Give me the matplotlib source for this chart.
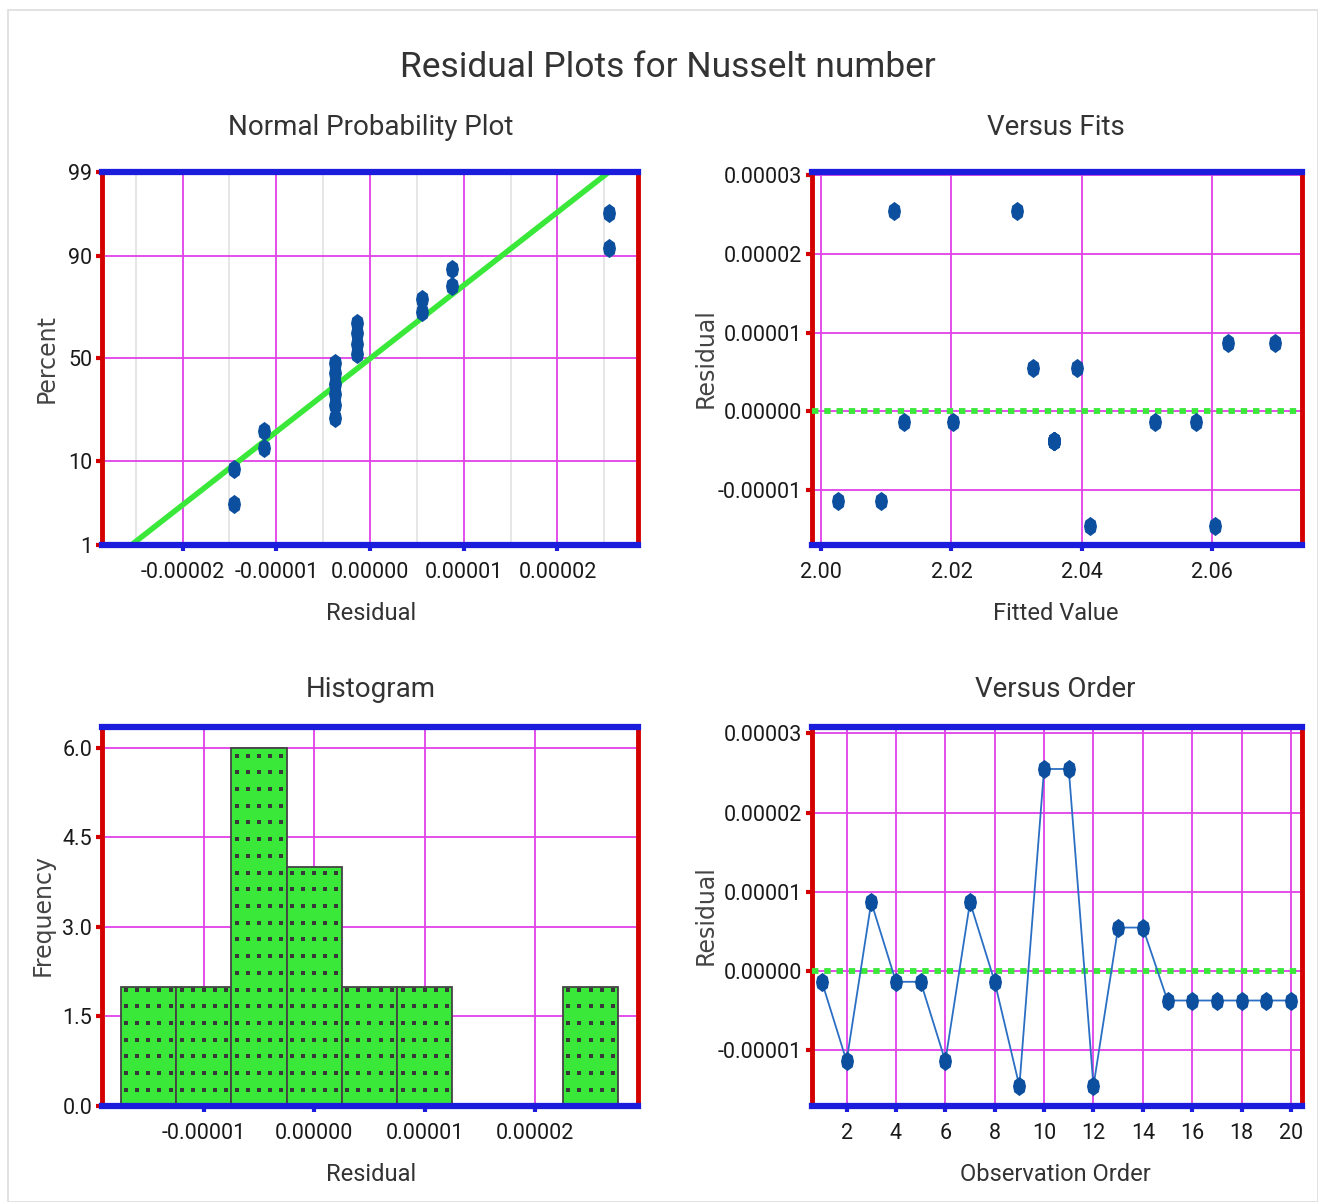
"""
Four-panel residual diagnostics for the Nusselt number regression.
Writes out.png.
"""

from statistics import NormalDist

import matplotlib

matplotlib.use("Agg")
import matplotlib.pyplot as plt
from matplotlib.patches import Rectangle
from matplotlib.path import Path
from matplotlib.ticker import FixedLocator
import numpy as np

# residuals in run order (observations 1..20)
observation = list(range(1, 21))
residual = [
    -1.34e-6, -1.134e-5, 8.7e-6, -1.34e-6, -1.34e-6,
    -1.134e-5, 8.7e-6, -1.34e-6, -1.45e-5, 2.55e-5,
    2.55e-5, -1.45e-5, 5.5e-6, 5.5e-6, -3.7e-6,
    -3.7e-6, -3.7e-6, -3.7e-6, -3.7e-6, -3.7e-6,
]
fitted = [
    2.0127, 2.0026, 2.0625, 2.0203, 2.0513,
    2.0092, 2.0696, 2.0576, 2.0412, 2.0112,
    2.0301, 2.0604, 2.0325, 2.0393, 2.0358,
    2.0358, 2.0358, 2.0358, 2.0358, 2.0358,
]
prob_ticks = [1, 10, 50, 90, 99]
resid_ticks = [-0.00002, -0.00001, 0.0, 0.00001, 0.00002]
hist_resid_ticks = [-0.00001, 0.0, 0.00001, 0.00002]
fit_ticks = [2.00, 2.02, 2.04, 2.06]
resid_y_ticks = [-0.00001, 0.0, 0.00001, 0.00002, 0.00003]
freq_ticks = [0.0, 1.5, 3.0, 4.5, 6.0]
order_ticks = [2, 4, 6, 8, 10, 12, 14, 16, 18, 20]
bin_width = 5e-6

BLUE_SPINE = "#1c1cdc"
RED_SPINE = "#d40000"
GRID = "#e040e8"
POINT = "#0b4f9e"
LINE_GREEN = "#3ae83a"
TEXT_FONT = ["Roboto", "DejaVu Sans"]
LABEL_FONT = ["DejaVu Sans"]

# tall rounded-diamond marker
DOT = Path([(0, 1), (0.55, 0.6), (0.68, 0), (0.55, -0.6), (0, -1),
            (-0.55, -0.6), (-0.68, 0), (-0.55, 0.6), (0, 1)])

plt.rcParams["axes.unicode_minus"] = False
nd = NormalDist()


def style_axes(ax):
    for side in ("top", "bottom"):
        ax.spines[side].set_color(BLUE_SPINE)
        ax.spines[side].set_linewidth(4.5)
        ax.spines[side].set_zorder(6)
    for side in ("left", "right"):
        ax.spines[side].set_color(RED_SPINE)
        ax.spines[side].set_linewidth(3.5)
    ax.tick_params(axis="x", colors=BLUE_SPINE, length=4, width=3, pad=8,
                   labelcolor="#1a1a1a", labelsize=15.5)
    ax.tick_params(axis="y", colors=RED_SPINE, length=4, width=3, pad=3,
                   labelcolor="#1a1a1a", labelsize=15.5)
    ax.tick_params(which="minor", length=0)
    for lab in ax.get_xticklabels() + ax.get_yticklabels():
        lab.set_family(TEXT_FONT)
    ax.grid(True, which="major", color=GRID, linewidth=1.3)
    ax.set_axisbelow(True)


fig = plt.figure(figsize=(13.18, 12.02), dpi=100)
fig.patches.append(Rectangle((0.006, 0.0), 0.994, 0.992, transform=fig.transFigure,
                             fill=False, edgecolor="#dddddd", linewidth=1.2))

ax_np = fig.add_axes([0.0774, 0.5466, 0.4067, 0.3103])
ax_vf = fig.add_axes([0.6161, 0.5466, 0.3718, 0.3103])
ax_h = fig.add_axes([0.0774, 0.0799, 0.4067, 0.3153])
ax_vo = fig.add_axes([0.6161, 0.0799, 0.3718, 0.3153])

res = np.array(residual)
fmt5 = lambda v: f"{v:.5f}"

# normal probability plot (median-rank plotting positions)
srt = np.sort(res)
n = len(srt)
z = [nd.inv_cdf((i - 0.3) / (n + 0.4)) for i in range(1, n + 1)]
mu, sd = res.mean(), res.std(ddof=1)
z_lo, z_hi = nd.inv_cdf(0.01), nd.inv_cdf(0.99)
ax_np.plot([mu + sd * z_lo, mu + sd * z_hi], [z_lo, z_hi], color=LINE_GREEN,
           linewidth=4, solid_capstyle="butt", zorder=3)
ax_np.scatter(srt, z, marker=DOT, s=190, color=POINT, zorder=4, linewidths=0)
ax_np.set_xlim(-2.86e-5, 2.86e-5)
ax_np.set_ylim(z_lo, z_hi)
ax_np.set_yticks([nd.inv_cdf(p / 100) for p in prob_ticks])
ax_np.set_yticklabels([str(p) for p in prob_ticks])
ax_np.set_xticks(resid_ticks)
ax_np.set_xticklabels([fmt5(v) for v in resid_ticks])
ax_np.xaxis.set_minor_locator(FixedLocator(np.arange(-2.5e-5, 2.6e-5, 1e-5)))
ax_np.grid(True, which="minor", axis="x", color="#e2e2e2", linewidth=1.2)
style_axes(ax_np)

# versus fits
ax_vf.axhline(0, color=LINE_GREEN, linewidth=4.2, linestyle=(0, (1.1, 1.0)), zorder=3)
ax_vf.scatter(fitted, res, marker=DOT, s=190, color=POINT, zorder=4, linewidths=0)
ax_vf.set_xlim(1.9986, 2.0738)
ax_vf.set_ylim(-1.695e-5, 3.04e-5)
ax_vf.set_xticks(fit_ticks)
ax_vf.set_xticklabels([f"{v:.2f}" for v in fit_ticks])
ax_vf.set_yticks(resid_y_ticks)
ax_vf.set_yticklabels([fmt5(v) for v in resid_y_ticks])
style_axes(ax_vf)

# histogram, bars filled with a dotted texture
edges = np.arange(-1.75e-5, 2.76e-5, bin_width)
counts, _ = np.histogram(res, bins=edges)
bars = ax_h.bar(edges[:-1], counts, width=bin_width, align="edge", color=LINE_GREEN,
                edgecolor="#444444", linewidth=1.3, zorder=2)
for bar in bars:
    h = bar.get_height()
    if h == 0:
        continue
    x0, w = bar.get_x(), bar.get_width()
    gx = x0 + w * (np.arange(5) + 0.5) / 5
    gy = np.arange(0.27, h, 0.28)
    xx, yy = np.meshgrid(gx, gy)
    dots = ax_h.scatter(xx.ravel(), yy.ravel(), marker="s", s=6.5, color="#383838",
                        linewidths=0, zorder=3)
    dots.set_clip_path(bar)
ax_h.set_xlim(-1.92e-5, 2.93e-5)
ax_h.set_ylim(0, 6.35)
ax_h.set_xticks(hist_resid_ticks)
ax_h.set_xticklabels([fmt5(v) for v in hist_resid_ticks])
ax_h.set_yticks(freq_ticks)
ax_h.set_yticklabels([f"{v:.1f}" for v in freq_ticks])
style_axes(ax_h)

# versus order
ax_vo.axhline(0, color=LINE_GREEN, linewidth=4.2, linestyle=(0, (1.1, 1.0)), zorder=3)
ax_vo.plot(observation, res, color="#2a6fc4", linewidth=1.3, zorder=4)
ax_vo.scatter(observation, res, marker=DOT, s=190, color=POINT, zorder=5, linewidths=0)
ax_vo.set_xlim(0.6, 20.45)
ax_vo.set_ylim(-1.70e-5, 3.08e-5)
ax_vo.set_xticks(order_ticks)
ax_vo.set_yticks(resid_y_ticks)
ax_vo.set_yticklabels([fmt5(v) for v in resid_y_ticks])
style_axes(ax_vo)

# titles and axis labels
fig.text(0.507, 0.944, "Residual Plots for Nusselt number", ha="center", va="center",
         fontsize=25.5, color="#333333", family=TEXT_FONT)
for x, y, s in [(0.2815, 0.894, "Normal Probability Plot"), (0.801, 0.894, "Versus Fits"),
                (0.2815, 0.426, "Histogram"), (0.801, 0.426, "Versus Order")]:
    fig.text(x, y, s, ha="center", va="center", fontsize=20, color="#333333", family=TEXT_FONT)
for x, y, s in [(0.2815, 0.490, "Residual"), (0.801, 0.490, "Fitted Value"),
                (0.2815, 0.0225, "Residual"), (0.801, 0.0225, "Observation Order")]:
    fig.text(x, y, s, ha="center", va="center", fontsize=17, color="#333333", family=TEXT_FONT)
for x, y, s in [(0.0357, 0.702, "Percent"), (0.5357, 0.702, "Residual"),
                (0.0326, 0.239, "Frequency"), (0.5357, 0.239, "Residual")]:
    fig.text(x, y, s, ha="center", va="center", rotation=90, fontsize=17,
             color="#444444", family=LABEL_FONT)

fig.savefig("out.png", dpi=100)
